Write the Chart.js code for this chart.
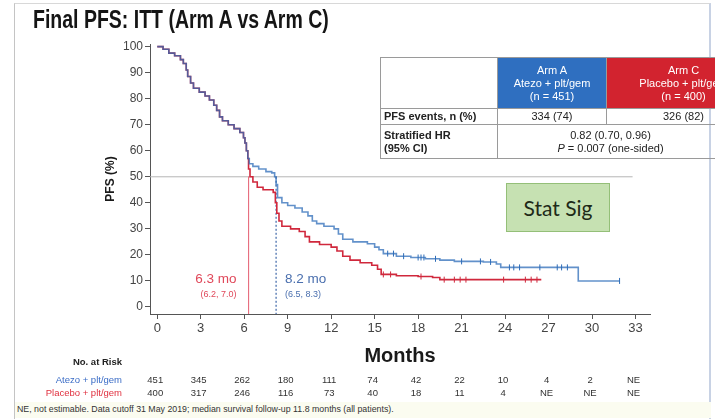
<!DOCTYPE html>
<html>
<head>
<meta charset="utf-8">
<script src="https://cdn.jsdelivr.net/npm/chart.js@4.4.1/dist/chart.umd.min.js"></script>
<style>
  body { margin: 0; width: 715px; height: 419px; position: relative; overflow: hidden; background: #fff;
         font-family: "Liberation Sans", Arial, sans-serif; }
  #km { position: absolute; left: 0; top: 0; }
  #frame { position: absolute; left: 14px; top: 3px; width: 694px; height: 430px;
           border-left: 1px solid #c4c4c4; border-top: 1px solid #d8d8d8; border-right: 2px solid #c8d2e4; }
  #title { position: absolute; left: 33px; top: 5px; font-size: 25px; font-weight: bold; color: #151515;
           transform: scaleX(0.78); transform-origin: left top; white-space: nowrap; }
  #hr { position: absolute; left: 380px; top: 57px; width: 380px; table-layout: fixed; border-collapse: collapse;
        font-size: 11px; color: #222; }
  #hr td { border: 1px solid #9a9a9a; padding: 0 3px; line-height: 13px; text-align: center; overflow: hidden; white-space: nowrap; }
  #hr td.lbl { text-align: left; font-weight: bold; }
  #hr td.armA { background: #2f6fc0; color: #fff; }
  #hr td.armC { background: #d2232f; color: #fff; }
  #stat { position: absolute; left: 506px; top: 183px; width: 102px; height: 47px; background: #c6e1b2;
          border: 1px solid #94bf78; font-family: Lato, "Open Sans", sans-serif; font-size: 21px; color: #1e2a18;
          display: flex; align-items: center; justify-content: center; }
  #note { position: absolute; left: 15px; top: 402px; width: 694px; height: 16px; background: #fbfcf0;
          font-size: 8.8px; line-height: 14px; color: #333; padding-left: 2px; white-space: nowrap; }
</style>
</head>
<body>
<canvas id="km" width="715" height="419"></canvas>
<div id="frame"></div>
<div id="title">Final PFS: ITT (Arm A vs Arm C)</div>
<table id="hr">
  <colgroup><col style="width:117px"><col style="width:109px"><col style="width:154px"></colgroup>
  <tr style="height:51px">
    <td></td>
    <td class="armA">Arm A<br>Atezo + plt/gem<br>(n = 451)</td>
    <td class="armC">Arm C<br>Placebo + plt/gem<br>(n = 400)</td>
  </tr>
  <tr style="height:16px">
    <td class="lbl">PFS events, n (%)</td>
    <td>334 (74)</td>
    <td>326 (82)</td>
  </tr>
  <tr style="height:34px">
    <td class="lbl">Stratified HR<br>(95% CI)</td>
    <td colspan="2" style="padding-right:40px">0.82 (0.70, 0.96)<br><i>P</i> = 0.007 (one-sided)</td>
  </tr>
</table>
<div id="stat">Stat Sig</div>
<div id="note">NE, not estimable. Data cutoff 31 May 2019; median survival follow-up 11.8 months (all patients).</div>

<script>
const months = [0, 3, 6, 9, 12, 15, 18, 21, 24, 27, 30, 33];
const pfsTicks = [0, 10, 20, 30, 40, 50, 60, 70, 80, 90, 100];

// Kaplan-Meier steps: time of event (months) and PFS (%) after it
const armATime = [0, 0.4, 0.8, 1.2, 1.6, 1.8, 2.0, 2.1, 2.3, 2.5, 2.9, 3.3, 3.6, 3.9, 4.1, 4.3, 4.5, 4.9, 5.3, 5.7,
  5.95, 6.05, 6.15, 6.25, 6.35, 6.6, 7.0, 7.5, 7.9, 8.1, 8.2, 8.3, 8.6, 9.0, 9.5, 10.0, 10.4, 10.7, 11.0, 11.5,
  12.2, 12.5, 12.8, 13.5, 14.5, 15.0, 15.3, 15.6, 16.5, 17.5, 18.5, 19.5, 20.5, 22.5, 23.4, 23.7, 29.05, 31.9];
const armAPfs = [100, 99, 97.5, 96.5, 95, 93.5, 91, 88.5, 86, 84, 82.5, 81, 79.5, 77.5, 75.5, 73, 71.5, 70, 68.5, 67,
  65, 63, 60, 57, 55, 54, 53, 52, 51.5, 50, 47, 42, 40, 39, 38, 36.5, 35, 33, 32, 31,
  30, 28, 26, 25, 24.3, 23, 22, 20.5, 19.5, 19, 18.5, 18, 17.5, 17.3, 16.5, 15.2, 10, 10];
const armCTime = [0, 0.4, 0.8, 1.2, 1.6, 1.8, 2.0, 2.1, 2.3, 2.5, 2.9, 3.3, 3.6, 3.9, 4.1, 4.3, 4.5, 4.9, 5.3, 5.7,
  5.95, 6.05, 6.15, 6.25, 6.3, 6.4, 6.6, 6.9, 7.3, 8.0, 8.15, 8.25, 8.4, 8.6, 9.2, 9.8, 10.2, 10.5, 11.2, 12.0,
  12.4, 12.8, 13.3, 14.0, 14.8, 15.2, 15.45, 16.5, 18.0, 19.0, 19.5, 26.5];
const armCPfs = [100, 99, 97.5, 96.5, 95, 93.5, 91, 88.5, 86, 84, 82.5, 81, 79.5, 77.5, 75.5, 73, 71.5, 70, 68.5, 67,
  65, 63, 60, 57, 53, 50, 48, 46, 45, 44, 40, 36, 33, 31, 30, 29, 27, 25, 24, 23,
  21.5, 19.5, 18, 17, 16, 14.5, 12.5, 12, 11.7, 11.3, 10.5, 10.5];

// censoring times (months)
const armACensor = [15.9, 16.3, 17.0, 18.0, 18.2, 18.4, 19.2, 21.0, 22.3, 23.0, 24.3, 24.6, 25.0, 26.4, 27.6, 27.9, 28.3, 31.9];
const armCCensor = [15.6, 16.1, 18.2, 19.8, 20.5, 20.9, 21.3, 23.9, 25.4, 25.8, 26.2];

// numbers at risk under each month tick
const armARisk = ['451', '345', '262', '180', '111', '74', '42', '22', '10', '4', '2', 'NE'];
const armCRisk = ['400', '317', '246', '116', '73', '40', '18', '11', '4', 'NE', 'NE', 'NE'];

const medianA = 8.2, medianC = 6.3;
const medianALabel = ['8.2 mo', '(6.5, 8.3)'];
const medianCLabel = ['6.3 mo', '(6.2, 7.0)'];

const BLUE = '#2d6cb8';
const RED = '#d0283c';
const FONT = '"Liberation Sans", Arial, sans-serif';

const toPoints = (ts, vs) => ts.map((t, i) => ({ x: t, y: vs[i] }));
const stepAt = (ts, vs, t) => {
  let v = vs[0];
  for (let i = 0; i < ts.length; i++) if (ts[i] <= t) v = vs[i];
  return v;
};
const censorPoints = (cs, ts, vs) => cs.map(t => ({ x: t, y: stepAt(ts, vs, t) }));

// risk table, median labels
const annotations = {
  id: 'annotations',
  afterDraw(chart) {
    const { ctx, scales: { x, y } } = chart;
    ctx.save();
    ctx.font = '13.5px ' + FONT;
    ctx.textBaseline = 'alphabetic';
    ctx.textAlign = 'right';
    ctx.fillStyle = '#e0485a';
    ctx.fillText(medianCLabel[0], x.getPixelForValue(medianC) - 12, y.getPixelForValue(9.3));
    ctx.textAlign = 'left';
    ctx.fillStyle = '#4a6fae';
    ctx.fillText(medianALabel[0], x.getPixelForValue(medianA) + 9, y.getPixelForValue(9.3));
    ctx.font = '9px ' + FONT;
    ctx.textAlign = 'right';
    ctx.fillStyle = '#e0485a';
    ctx.fillText(medianCLabel[1], x.getPixelForValue(medianC) - 12, y.getPixelForValue(4));
    ctx.textAlign = 'left';
    ctx.fillStyle = '#4a6fae';
    ctx.fillText(medianALabel[1], x.getPixelForValue(medianA) + 9, y.getPixelForValue(4));

    ctx.textBaseline = 'middle';
    ctx.textAlign = 'right';
    ctx.font = 'bold 9.5px ' + FONT;
    ctx.fillStyle = '#222';
    ctx.fillText('No. at Risk', 122, 362);
    ctx.font = '9.5px ' + FONT;
    ctx.fillStyle = '#3a6cc6';
    ctx.fillText('Atezo + plt/gem', 122, 380);
    ctx.fillStyle = '#e0303f';
    ctx.fillText('Placebo + plt/gem', 122, 393);
    ctx.textAlign = 'center';
    ctx.fillStyle = '#333';
    months.forEach((m, i) => {
      const px = x.getPixelForValue(m);
      ctx.fillText(armARisk[i], px - 2, 380);
      ctx.fillText(armCRisk[i], px - 2, 393);
    });
    ctx.restore();
  }
};

new Chart(document.getElementById('km'), {
  data: {
    datasets: [
      {
        type: 'line', label: 'Atezo + plt/gem', data: toPoints(armATime, armAPfs),
        stepped: 'before', borderColor: 'rgba(45, 108, 184, 0.75)', borderWidth: 1.6, pointRadius: 0
      },
      {
        type: 'line', label: 'Placebo + plt/gem', data: toPoints(armCTime, armCPfs),
        stepped: 'before', borderColor: RED, borderWidth: 1.6, pointRadius: 0
      },
      {
        type: 'scatter', data: censorPoints(armACensor, armATime, armAPfs),
        pointStyle: 'line', rotation: 90, pointRadius: 3, borderColor: BLUE, borderWidth: 1
      },
      {
        type: 'scatter', data: censorPoints(armCCensor, armCTime, armCPfs),
        pointStyle: 'line', rotation: 90, pointRadius: 3, borderColor: RED, borderWidth: 1
      },
      {
        type: 'line', data: [{ x: medianA, y: 50 }, { x: medianA, y: -2.7 }],
        borderColor: '#3d66a8', borderWidth: 1.2, borderDash: [2, 2], pointRadius: 0
      },
      {
        type: 'line', data: [{ x: medianC, y: 50 }, { x: medianC, y: -2.7 }],
        borderColor: '#e77080', borderWidth: 1, pointRadius: 0
      },
      {
        type: 'line', data: [{ x: -0.5, y: 50 }, { x: 32.8, y: 50 }],
        borderColor: '#b5b5b5', borderWidth: 1, pointRadius: 0
      }
    ]
  },
  options: {
    responsive: false,
    animation: false,
    devicePixelRatio: 1,
    layout: { padding: { left: 99, right: 65, top: 44, bottom: 47 } },
    plugins: { legend: { display: false }, tooltip: { enabled: false } },
    scales: {
      x: {
        type: 'linear', min: -0.5, max: 34,
        afterBuildTicks: s => { s.ticks = months.map(v => ({ value: v })); },
        afterFit: s => { s.height = 58; },
        grid: { drawOnChartArea: false, tickLength: 5, color: '#555' },
        border: { color: '#555' },
        ticks: { color: '#444', font: { size: 13, family: FONT }, padding: 2, maxRotation: 0 },
        title: { display: true, text: 'Months', color: '#1a1a1a', padding: { top: 0, bottom: 4 },
                 font: { size: 20, weight: 'bold', family: FONT } }
      },
      y: {
        type: 'linear', min: -2.7, max: 101,
        afterBuildTicks: s => { s.ticks = pfsTicks.map(v => ({ value: v })); },
        afterFit: s => { s.width = 51; },
        grid: { drawOnChartArea: false, tickLength: 5, color: '#555' },
        border: { color: '#555' },
        ticks: { color: '#444', font: { size: 12, family: FONT }, padding: 2 },
        title: { display: true, text: 'PFS (%)', color: '#1a1a1a', padding: { top: 4, bottom: 0 },
                 font: { size: 12, weight: 'bold', family: FONT } }
      }
    }
  },
  plugins: [annotations]
});
</script>
</body>
</html>
